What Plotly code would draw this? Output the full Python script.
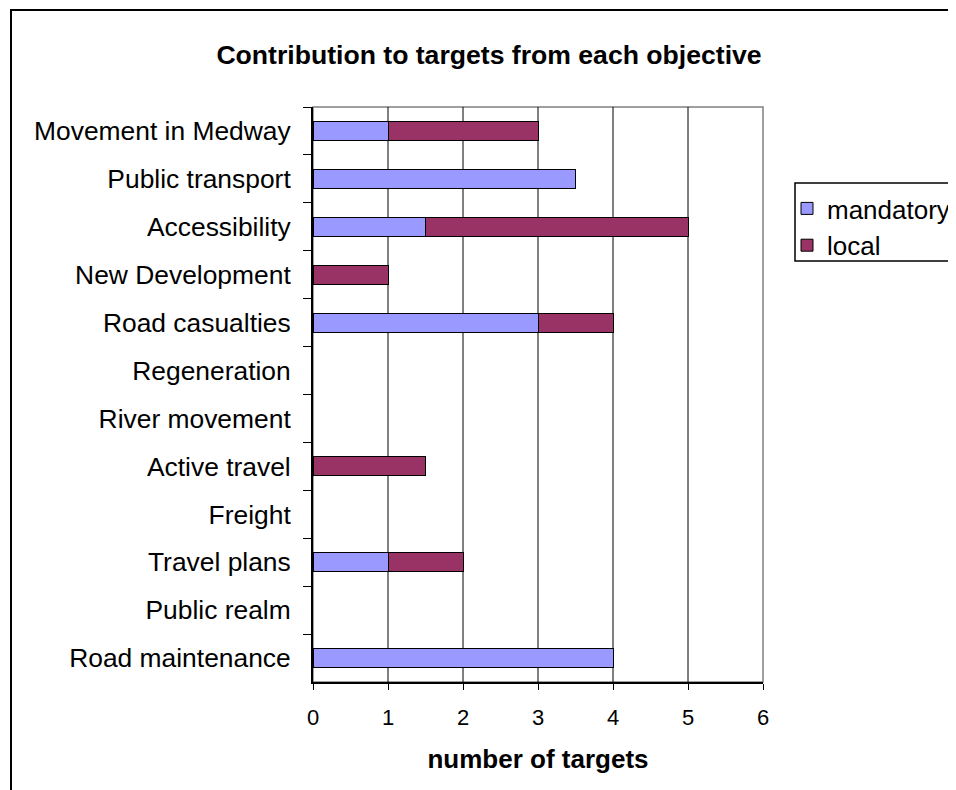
import plotly.graph_objects as go

categories = ["Movement in Medway", "Public transport", "Accessibility", "New Development",
              "Road casualties", "Regeneration", "River movement", "Active travel",
              "Freight", "Travel plans", "Public realm", "Road maintenance"]
mandatory = [1, 3.5, 1.5, None, 3, None, None, None, None, 1, None, 4]
local = [2, None, 3.5, 1, 1, None, None, 1.5, None, 1, None, None]
x_ticks = [0, 1, 2, 3, 4, 5, 6]

FONT = "Liberation Sans, Arial, sans-serif"
OFF = 8  # page body margin
W, H = 956 - OFF, 790 - OFF
L, T = 313 - OFF, 107 - OFF
R = W - (763 - OFF)
B = H - (682 - OFF)
pw, ph = W - L - R, H - T - B

def px_x(p):
    return (p - OFF - L) / pw

def px_y(p):
    return (H - B - (p - OFF)) / ph

fig = go.Figure()
fig.add_trace(go.Bar(y=categories, x=mandatory, name="mandatory", orientation="h",
                     marker=dict(color="#9999FF", line=dict(color="black", width=1)), width=0.4))
fig.add_trace(go.Bar(y=categories, x=local, name="local", orientation="h",
                     marker=dict(color="#993366", line=dict(color="black", width=1)), width=0.4))

shapes = []
shapes.append(dict(type="rect", xref="paper", yref="paper", x0=0, x1=1, y0=0, y1=1,
                   line=dict(color="#808080", width=1.5), layer="below"))
for v in x_ticks[1:-1]:
    shapes.append(dict(type="line", xref="x", yref="paper", x0=v, x1=v, y0=0, y1=1,
                       line=dict(color="black", width=1), layer="below"))
# outer chart border
shapes.append(dict(type="rect", xref="paper", yref="paper",
                   x0=px_x(11), x1=px_x(980), y0=px_y(810), y1=px_y(10),
                   line=dict(color="black", width=2)))
# legend box border
shapes.append(dict(type="rect", xref="paper", yref="paper",
                   x0=px_x(795), x1=px_x(980), y0=px_y(261), y1=px_y(183),
                   line=dict(color="black", width=1.5)))

fig.update_layout(
    width=W, height=H,
    margin=dict(l=L, r=R, t=T, b=B, autoexpand=False),
    paper_bgcolor="white", plot_bgcolor="white",
    barmode="stack",
    font=dict(family=FONT, color="black"),
    title=dict(text="<b>Contribution to targets from each objective</b>",
               x=px_x(489), xref="paper", xanchor="center",
               y=1 - (55 - OFF) / H, yanchor="middle", font=dict(size=26.6)),
    showlegend=True,
    legend=dict(x=px_x(787), y=px_y(185), xanchor="left", yanchor="top",
                borderwidth=0, font=dict(size=26),
                bgcolor="rgba(0,0,0,0)", traceorder="normal", itemwidth=30,
                tracegroupgap=0),
    shapes=shapes,
    xaxis=dict(range=[0, 6], tickvals=x_ticks, showgrid=False, zeroline=False,
               showline=True, linecolor="black", linewidth=2,
               ticks="outside", ticklen=6, tickcolor="black", tickwidth=1,
               tickfont=dict(size=22), ticklabelstandoff=9,
               title=dict(text="<b>number of targets</b>", font=dict(size=26), standoff=20)),
    yaxis=dict(categoryorder="array", categoryarray=categories, autorange="reversed",
               showgrid=False, zeroline=False, showline=True, linecolor="black", linewidth=2,
               ticks="outside", ticklen=8, tickcolor="black", tickwidth=1,
               tickson="boundaries", tickfont=dict(size=26.4), ticklabelstandoff=15),
)

fig.write_html("out.html")
